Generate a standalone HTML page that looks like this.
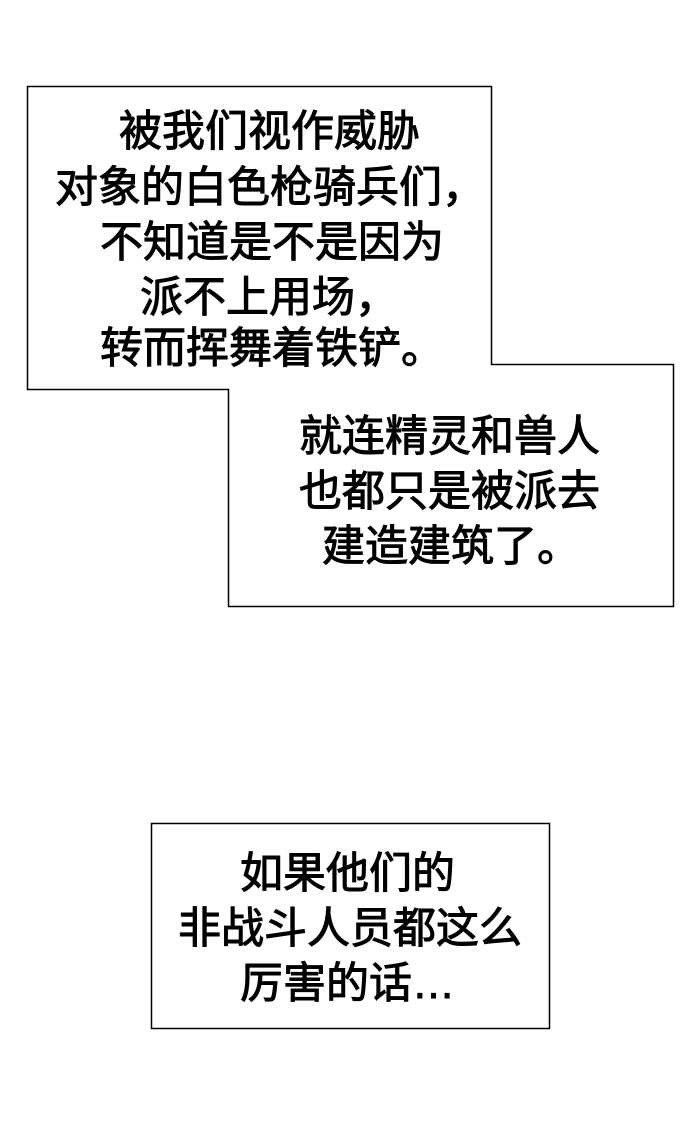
<!DOCTYPE html>
<html><head><meta charset="utf-8"><style>
body{margin:0;width:690px;height:1129px;background:#fff;position:relative;overflow:hidden}
.t{position:absolute;font-family:"Liberation Sans","Noto Sans CJK SC",sans-serif;font-size:43px;line-height:43px;white-space:nowrap;color:#000;-webkit-text-stroke:1px #000;letter-spacing:0}
</style></head><body>
<svg width="690" height="1129" style="position:absolute;left:0;top:0">
<polygon points="27.5,86.5 491.5,86.5 491.5,364.5 673.5,364.5 673.5,606.5 228.5,606.5 228.5,389.5 27.5,389.5" fill="#fff" stroke="#000" stroke-width="1.5"/>
<rect x="151.5" y="823.5" width="398" height="205" fill="#fff" stroke="#000" stroke-width="1.5"/>
</svg>
<div class="t" style="left:119px;top:111px">被我们视作威胁</div>
<div class="t" style="left:55px;top:167px">对象的白色枪骑兵们，</div>
<div class="t" style="left:100px;top:222px">不知道是不是因为</div>
<div class="t" style="left:140px;top:277px">派不上用场，</div>
<div class="t" style="left:100px;top:328px">转而挥舞着铁铲。</div>
<div class="t" style="left:299px;top:416px">就连精灵和兽人</div>
<div class="t" style="left:299px;top:471px">也都只是被派去</div>
<div class="t" style="left:322px;top:526px">建造建筑了。</div>
<div class="t" style="left:240px;top:853px">如果他们的</div>
<div class="t" style="left:178px;top:908px">非战斗人员都这么</div>
<div class="t" style="left:240px;top:963px">厉害的话…</div>
</body></html>
